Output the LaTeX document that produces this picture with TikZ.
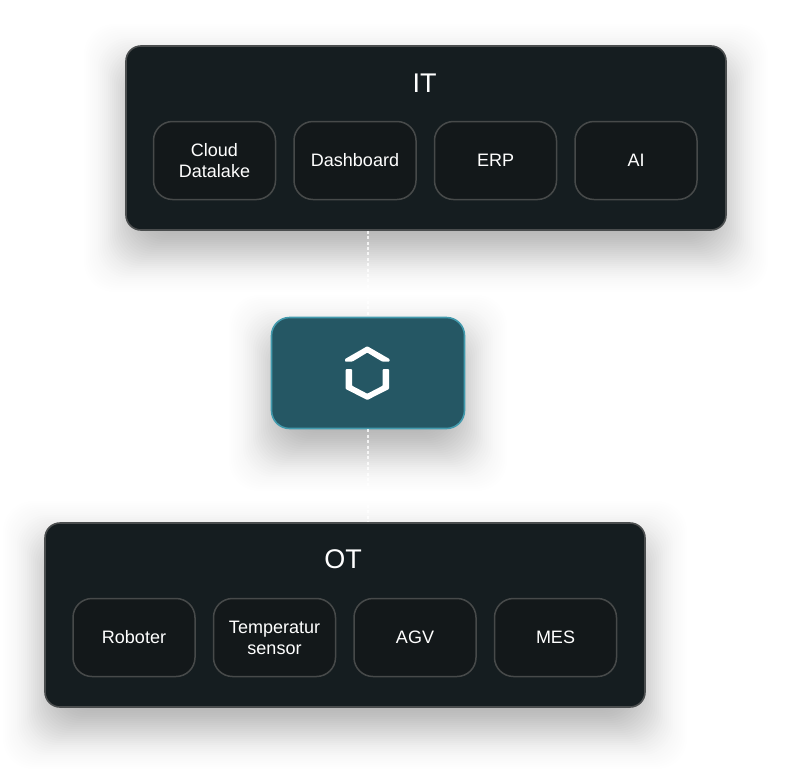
\documentclass[tikz,border=0pt]{standalone}
\usepackage{fontspec}
\setmainfont{Liberation Sans}
\definecolor{panel}{HTML}{151D20}
\definecolor{panelline}{HTML}{4A4D4E}
\definecolor{cardfill}{HTML}{13181A}
\definecolor{cardline}{HTML}{474A4A}
\definecolor{hubfill}{HTML}{255764}
\definecolor{hubline}{HTML}{429AAD}
\tikzset{
  panelbox/.style={draw=panelline,line width=1.6pt,fill=panel,rounded corners=15pt,inner sep=0pt},
  cardbox/.style={draw=cardline,line width=1.5pt,fill=cardfill,rounded corners=19pt,minimum width=122pt,minimum height=78pt,inner sep=0pt,text=white,align=center,font=\fontsize{18}{21}\selectfont},
  hubbox/.style={draw=hubline,line width=1.6pt,fill=hubfill,rounded corners=18pt,minimum width=193pt,minimum height=111pt,inner sep=0pt},
  paneltitle/.style={text=white,inner sep=0pt,font=\fontsize{27}{30}\selectfont},
  linkline/.style={draw=white,line width=2.6pt,dash pattern=on 3pt off 2.4pt,opacity=.8}
}
\newcommand{\softshadow}[5]{%
  \foreach \s in {62,60,...,-44}{
    \pgfmathsetmacro{\op}{#5*exp(-((\s-4)*(\s-4))/(2*20*20))}
    \fill[black,opacity=\op,rounded corners=30pt]
      (#1-\s,#2-\s+20) rectangle (#3+\s,#4+\s+20);
  }}
\begin{document}
\begin{tikzpicture}[x=1pt,y=-1pt]
\useasboundingbox (0,0) rectangle (800,782);
\fill[white] (0,0) rectangle (800,782);
\softshadow{126}{46}{726}{230}{0.013}
\softshadow{45}{523}{645}{707}{0.013}
\softshadow{271}{317}{465}{429}{0.013}
\node[panelbox,minimum width=600pt,minimum height=184pt] (it) at (426,138) {};
\node[panelbox,minimum width=600pt,minimum height=184pt] (ot) at (345,615) {};
\node[hubbox] (hub) at (368,373) {};
\draw[linkline] (it.south -| hub.north) -- (hub.north);
\draw[linkline] (hub.south) -- (ot.north -| hub.south);
\node[paneltitle] (ittitle) at (424.5,83) {IT};
\node[paneltitle] (ottitle) at (343,559.5) {OT};
\node[cardbox] (c1) at (214.5,160.5) {\raisebox{.6pt}{Cloud}\\\raisebox{.6pt}{Datalake}};
\node[cardbox] (c2) at (355,160.5) {Dashboard};
\node[cardbox] (c3) at (495.5,160.5) {ERP};
\node[cardbox] (c4) at (636,160.5) {AI};
\node[cardbox] (d1) at (134,637.5) {Roboter};
\node[cardbox] (d2) at (274.5,637.5) {Temperatur\\sensor};
\node[cardbox] (d3) at (415,637.5) {AGV};
\node[cardbox] (d4) at (555.5,637.5) {MES};
\fill[white,rounded corners=.7pt] (345,361.5) -- (345,359) -- (367.3,346.2) -- (389.5,359) -- (389.5,361.5) -- (382,361.5) -- (367.3,352.6) -- (352.5,361.5) -- cycle;
\fill[white,rounded corners=.7pt] (345.7,369.2) -- (352,369.2) -- (352,385.7) -- (367.3,393.7) -- (382.7,385.7) -- (382.7,369.2) -- (389,369.2) -- (389,389) -- (367.3,400) -- (345.7,389) -- cycle;
\end{tikzpicture}
\end{document}
